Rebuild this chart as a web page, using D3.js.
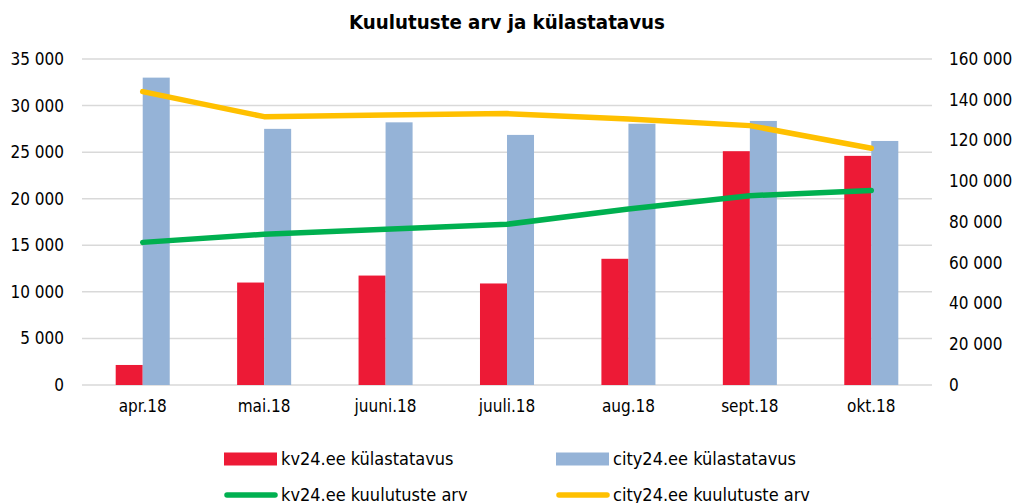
<!DOCTYPE html>
<html>
<head>
<meta charset="utf-8">
<script src="https://cdn.jsdelivr.net/npm/d3@7"></script>
<style>
  body { margin: 0; background: #fff; }
  svg text { font-family: "DejaVu Sans Condensed", "DejaVu Sans", sans-serif; fill: #000; }
</style>
</head>
<body>
<div id="chart"></div>
<script>
// Data
const months = ['apr.18', 'mai.18', 'juuni.18', 'juuli.18', 'aug.18', 'sept.18', 'okt.18'];
const kvVisits = [2150, 11000, 11750, 10900, 13550, 25100, 24600];
const cityVisits = [33000, 27500, 28200, 26850, 28050, 28350, 26200];
const kvListings = [70000, 74000, 76500, 78900, 86400, 92900, 95500];
const cityListings = [144000, 131700, 132500, 133200, 130500, 127300, 116200];
const leftTicks = [0, 5000, 10000, 15000, 20000, 25000, 30000, 35000];
const rightTicks = [0, 20000, 40000, 60000, 80000, 100000, 120000, 140000, 160000];

const W = 1014, H = 503;
const plot = { left: 82, right: 932, top: 59, bottom: 385 };

const colors = { kv: '#ED1A36', city: '#95B3D7', kvLine: '#00B050', cityLine: '#FFC000' };

const fmt = v => d3.format(',')(v).replace(/,/g, ' ');

const svg = d3.select('#chart').append('svg')
  .attr('width', W)
  .attr('height', H);

const x = d3.scaleBand()
  .domain(months)
  .range([plot.left, plot.right]);

const yLeft = d3.scaleLinear().domain([0, 35000]).range([plot.bottom, plot.top]);
const yRight = d3.scaleLinear().domain([0, 160000]).range([plot.bottom, plot.top]);

// Title
svg.append('text')
  .attr('x', 507)
  .attr('y', 29)
  .attr('text-anchor', 'middle')
  .attr('font-size', 20.3)
  .attr('font-weight', 'bold')
  .text('Kuulutuste arv ja külastatavus');

// Gridlines
svg.append('g')
  .selectAll('line')
  .data(leftTicks)
  .enter().append('line')
  .attr('x1', plot.left)
  .attr('x2', plot.right)
  .attr('y1', d => yLeft(d))
  .attr('y2', d => yLeft(d))
  .attr('stroke', '#d9d9d9')
  .attr('stroke-width', 1.5);

// Left axis
const leftAxis = svg.append('g')
  .attr('transform', `translate(${plot.left},0)`)
  .call(d3.axisLeft(yLeft).tickValues(leftTicks).tickFormat(fmt).tickSize(0).tickPadding(18));
leftAxis.select('.domain').remove();
leftAxis.selectAll('text').attr('font-size', 17).attr('fill', '#000');

// Right axis
const rightAxis = svg.append('g')
  .attr('transform', `translate(${plot.right},0)`)
  .call(d3.axisRight(yRight).tickValues(rightTicks).tickFormat(fmt).tickSize(0).tickPadding(17));
rightAxis.select('.domain').remove();
rightAxis.selectAll('text').attr('font-size', 17).attr('fill', '#000');

// Bottom axis labels
const bottomAxis = svg.append('g')
  .attr('transform', `translate(0,${plot.bottom})`)
  .call(d3.axisBottom(x).tickSize(0).tickPadding(15));
bottomAxis.select('.domain').remove();
bottomAxis.selectAll('text').attr('font-size', 17).attr('fill', '#000');

// Bars
const inner = d3.scaleBand()
  .domain(['kv', 'city'])
  .range([0, x.bandwidth() * 0.445]);
const offset = (x.bandwidth() - x.bandwidth() * 0.445) / 2;

const barData = [
  { key: 'kv', values: kvVisits },
  { key: 'city', values: cityVisits }
];

barData.forEach(s => {
  svg.append('g')
    .selectAll('rect')
    .data(s.values)
    .enter().append('rect')
    .attr('x', (d, i) => x(months[i]) + offset + inner(s.key))
    .attr('y', d => yLeft(d))
    .attr('width', inner.bandwidth())
    .attr('height', d => plot.bottom - yLeft(d))
    .attr('fill', colors[s.key]);
});

// Lines
const line = d3.line()
  .x((d, i) => x(months[i]) + x.bandwidth() / 2)
  .y(d => yRight(d));

[[kvListings, colors.kvLine], [cityListings, colors.cityLine]].forEach(([vals, c]) => {
  svg.append('path')
    .datum(vals)
    .attr('d', line)
    .attr('fill', 'none')
    .attr('stroke', c)
    .attr('stroke-width', 5.5)
    .attr('stroke-linecap', 'round')
    .attr('stroke-linejoin', 'round');
});

// Legend
const legendItems = [
  { label: 'kv24.ee külastatavus', color: colors.kv, type: 'rect', x: 224, y: 459 },
  { label: 'city24.ee külastatavus', color: colors.city, type: 'rect', x: 556, y: 459 },
  { label: 'kv24.ee kuulutuste arv', color: colors.kvLine, type: 'line', x: 224, y: 495 },
  { label: 'city24.ee kuulutuste arv', color: colors.cityLine, type: 'line', x: 556, y: 495 }
];

const legend = svg.append('g')
  .selectAll('g')
  .data(legendItems)
  .enter().append('g')
  .attr('transform', d => `translate(${d.x},${d.y})`);

legend.filter(d => d.type === 'rect').append('rect')
  .attr('x', 0)
  .attr('y', -6.5)
  .attr('width', 53)
  .attr('height', 13)
  .attr('fill', d => d.color);

legend.filter(d => d.type === 'line').append('line')
  .attr('x1', 3)
  .attr('x2', 51)
  .attr('y1', 0)
  .attr('y2', 0)
  .attr('stroke', d => d.color)
  .attr('stroke-width', 5.5)
  .attr('stroke-linecap', 'round');

legend.append('text')
  .attr('x', 57)
  .attr('y', 0)
  .attr('dy', '0.36em')
  .attr('font-size', 18)
  .text(d => d.label);
</script>
</body>
</html>
